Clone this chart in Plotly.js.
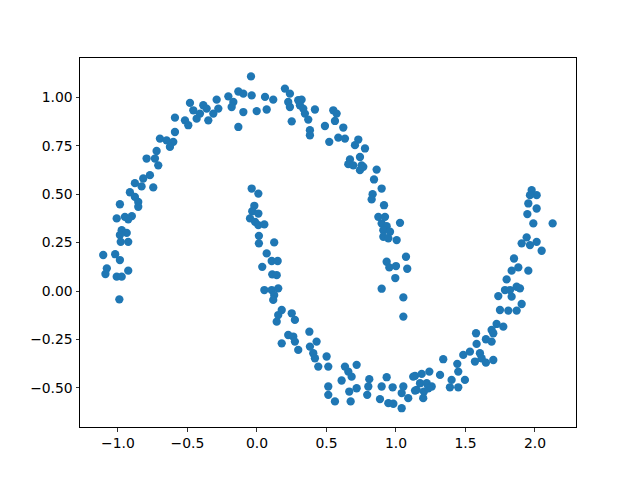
<!DOCTYPE html>
<html>
<head>
<meta charset="utf-8">
<script src="https://cdn.plot.ly/plotly-3.0.1.min.js"></script>
<style>html,body{margin:0;padding:0;background:#fff;}</style>
</head>
<body>
<div id="chart" style="width:640px;height:480px;"></div>
<script>
// Upper moon points
const upperX = [-0.878,-0.83,-0.746,-0.914,-0.878,-0.854,-0.854,-0.986,-1.009,-0.95,-0.90,-0.926,-0.973,-0.937,-0.986,-0.926,-0.98,-1.106,-1.02,-0.986,-1.08,-1.09,-1.009,-0.973,-0.926,-0.99,
  -0.043,-0.134,-0.098,-0.206,-0.29,-0.17,-0.182,-0.098,-0.134,-0.278,-0.386,-0.362,-0.314,-0.35,-0.482,-0.458,-0.41,-0.434,-0.518,-0.494,-0.59,-0.59,-0.698,-0.65,-0.602,-0.626,-0.722,-0.794,-0.734,-0.71,-0.77,-0.818,
  -0.038,-0.002,0.058,0.07,0.117,0.201,0.237,0.225,0.237,0.25,0.297,0.321,0.309,0.333,0.345,0.369,0.417,0.381,0.381,0.549,0.573,0.561,0.489,0.621,0.585,0.633,0.52,0.729,0.705,0.777,0.669,0.657,0.693,0.741,0.753,0.741,0.765,0.861,0.842,0.897,
  0.832,0.825,0.914,0.873,0.921,0.897,0.933,1.029,0.909,0.957,0.909,0.945,1.005,1.072,0.933,0.952,1.0,1.081,0.995,0.897,1.053,1.053];
const upperY = [0.557,0.54,0.535,0.51,0.486,0.46,0.435,0.448,0.375,0.383,0.387,0.37,0.314,0.30,0.289,0.254,0.254,0.186,0.19,0.16,0.117,0.088,0.074,0.074,0.105,-0.043,
  1.108,1.03,1.019,1.005,0.988,0.976,0.95,0.924,0.847,0.942,0.959,0.942,0.916,0.881,0.971,0.933,0.916,0.89,0.881,0.856,0.895,0.821,0.787,0.778,0.77,0.744,0.723,0.684,0.684,0.649,0.598,0.581,
  1.01,0.929,1.002,0.937,0.988,1.045,1.019,0.976,0.95,0.876,0.985,0.988,0.959,0.942,0.916,0.885,0.937,0.83,0.804,0.933,0.916,0.878,0.852,0.844,0.792,0.787,0.77,0.782,0.753,0.736,0.679,0.655,0.649,0.692,0.649,0.624,0.641,0.627,0.576,0.529,
  0.5,0.473,0.443,0.383,0.383,0.349,0.335,0.352,0.314,0.306,0.28,0.272,0.263,0.177,0.151,0.122,0.129,0.115,0.067,0.012,-0.033,-0.132];

// Lower moon points
const lowerX = [-0.038,0.01,-0.019,-0.034,0.01,-0.05,-0.014,0.01,0.053,0.014,0.014,0.124,0.07,0.106,0.149,0.038,0.11,0.142,0.053,0.106,0.153,0.124,0.117,0.178,0.153,0.142,0.25,0.273,0.225,0.261,0.178,0.273,0.297,
  0.377,0.429,0.381,0.405,0.417,0.501,0.441,0.513,0.633,0.717,0.657,0.609,0.681,0.808,0.801,0.717,0.664,0.513,0.513,0.561,0.674,0.793,0.897,0.933,0.976,0.885,0.945,0.981,1.041,1.053,1.041,1.088,1.137,1.149,
  1.904,1.868,1.808,1.748,1.772,1.724,1.688,1.70,1.647,1.688,1.576,1.58,1.532,1.484,1.604,1.616,1.568,1.647,1.70,1.34,1.441,1.448,1.40,1.496,1.388,1.448,1.317,1.24,1.185,1.124,1.173,1.221,1.257,1.137,1.201,1.233,1.196,
  1.976,2.012,1.964,1.952,2.012,1.945,1.988,2.127,1.94,1.904,1.964,2.012,2.048,1.849,1.88,1.952,1.832,1.796,1.868,1.892,1.784,1.736,1.832,1.82];
const lowerY = [0.529,0.503,0.44,0.412,0.4,0.375,0.357,0.34,0.344,0.285,0.246,0.251,0.194,0.155,0.155,0.125,0.086,0.082,0.005,0.005,0.014,-0.021,-0.046,-0.098,-0.124,-0.158,-0.115,-0.149,-0.227,-0.235,-0.27,-0.261,-0.304,
  -0.21,-0.261,-0.287,-0.321,-0.347,-0.338,-0.39,-0.39,-0.39,-0.381,-0.416,-0.462,-0.442,-0.455,-0.493,-0.502,-0.519,-0.493,-0.536,-0.57,-0.57,-0.536,-0.493,-0.445,-0.497,-0.558,-0.579,-0.582,-0.605,-0.493,-0.527,-0.553,-0.438,-0.51,
  -0.067,-0.101,-0.101,-0.098,-0.184,-0.17,-0.201,-0.218,-0.249,-0.261,-0.218,-0.273,-0.313,-0.33,-0.321,-0.347,-0.364,-0.37,-0.356,-0.352,-0.376,-0.416,-0.459,-0.459,-0.497,-0.497,-0.433,-0.416,-0.428,-0.442,-0.476,-0.476,-0.493,-0.514,-0.519,-0.502,-0.553,
  0.521,0.495,0.495,0.452,0.426,0.397,0.349,0.349,0.277,0.246,0.237,0.254,0.208,0.168,0.122,0.105,0.105,0.06,0.022,0.014,0.005,-0.026,-0.029,0.005];

const xTickVals = [-1.0,-0.5,0.0,0.5,1.0,1.5,2.0];
const xTickText = ["\u22121.0","\u22120.5","0.0","0.5","1.0","1.5","2.0"];
const yTickVals = [-0.5,-0.25,0,0.25,0.5,0.75,1.0];
const yTickText = ["\u22120.50","\u22120.25","0.00","0.25","0.50","0.75","1.00"];

const trace = {
  x: upperX.concat(lowerX),
  y: upperY.concat(lowerY),
  mode: 'markers',
  type: 'scatter',
  marker: {color: '#1f77b4', size: 8.3, line: {width: 0}},
  hoverinfo: 'none'
};

const axisCommon = {
  showgrid: false, zeroline: false, showline: true, mirror: true,
  linecolor: '#000', linewidth: 1, ticks: 'outside', ticklen: 3.5, tickwidth: 0.8,
  tickcolor: '#000', tickfont: {family: 'DejaVu Sans', size: 13.9, color: '#000'}
};

const layout = {
  width: 640, height: 480,
  margin: {l: 80, r: 64, t: 58, b: 53},
  paper_bgcolor: '#fff', plot_bgcolor: '#fff',
  showlegend: false,
  xaxis: Object.assign({}, axisCommon, {range: [-1.273, 2.295], tickmode: 'array', tickvals: xTickVals, ticktext: xTickText}),
  yaxis: Object.assign({}, axisCommon, {range: [-0.702, 1.203], tickmode: 'array', tickvals: yTickVals, ticktext: yTickText})
};

Plotly.newPlot('chart', [trace], layout, {displayModeBar: false, staticPlot: true});
</script>
</body>
</html>
